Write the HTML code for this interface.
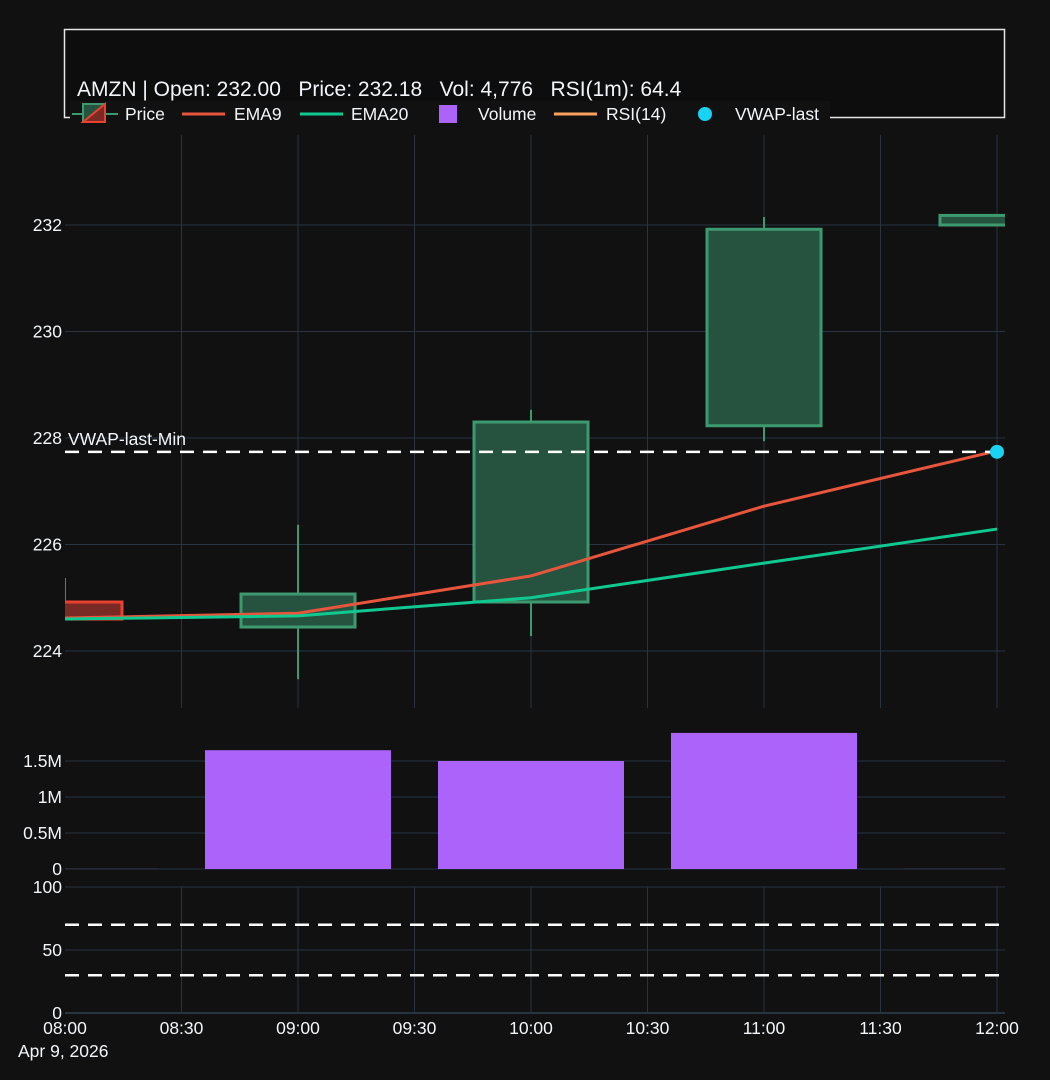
<!DOCTYPE html>
<html><head><meta charset="utf-8"><style>
body{margin:0;background:#111;}
svg{display:block;font-family:"Liberation Sans",sans-serif;}
</style></head><body>
<svg id="c" width="1050" height="1080">
<rect width="1050" height="1080" fill="#111"/>
</svg>
<script>
const times=[0,1,2,3,4]; // hours after 08:00
const opens=[224.92,224.45,224.92,228.23,232.0];
const highs=[225.37,226.37,228.53,232.15,232.18];
const lows=[224.6,223.47,224.28,227.94,232.0];
const closes=[224.6,225.07,228.3,231.92,232.18];
const ema9=[224.62,224.71,225.41,226.72,227.76];
const ema20=[224.6,224.66,225.0,225.65,226.29];
const volumes=[0.004,1.65,1.5,1.89,0.004]; // millions
const vwapLast=227.74;
const priceTicks=[224,226,228,230,232];
const volTicks=[0,0.5,1,1.5];
const volTickLabels=["0","0.5M","1M","1.5M"];
const rsiTicks=[0,50,100];
const rsiLevels=[70,30];
const xTickLabels=["08:00","08:30","09:00","09:30","10:00","10:30","11:00","11:30","12:00"];

const NS="http://www.w3.org/2000/svg",svg=document.getElementById('c');
function el(t,a,p){const e=document.createElementNS(NS,t);for(const k in a)e.setAttribute(k,a[k]);(p||svg).appendChild(e);return e;}
const L=65,R=1005,FS=17.5;
const x=h=>65+h*233;
const yP=v=>225+(232-v)*53.25;
const yV=v=>869-v*72;
const yR=v=>1013-v*1.26;
const GRID="#283442";
const defs=el('defs',{});const cp=el('clipPath',{id:'pc'},defs);el('rect',{x:L,y:135,width:R-L,height:573},cp);

const gx=el('g',{},svg);
for(let i=1;i<9;i++){el('line',{x1:x(i/2),x2:x(i/2),y1:135,y2:708,stroke:GRID},gx);el('line',{x1:x(i/2),x2:x(i/2),y1:887,y2:1013,stroke:GRID},gx);}
priceTicks.forEach(v=>{el('line',{x1:L,x2:R,y1:yP(v),y2:yP(v),stroke:GRID},gx);
 const t=el('text',{x:62,y:yP(v)+6,'text-anchor':'end',fill:'#f2f5fa','font-size':FS});t.textContent=v;});
volTicks.forEach((v,i)=>{el('line',{x1:L,x2:R,y1:yV(v),y2:yV(v),stroke:GRID},gx);
 const t=el('text',{x:62,y:yV(v)+6,'text-anchor':'end',fill:'#f2f5fa','font-size':FS});t.textContent=volTickLabels[i];});
rsiTicks.forEach(v=>{el('line',{x1:L,x2:R,y1:yR(v),y2:yR(v),stroke:GRID,'stroke-width':v==0?2:1},gx);
 const t=el('text',{x:62,y:yR(v)+6,'text-anchor':'end',fill:'#f2f5fa','font-size':FS});t.textContent=v;});
xTickLabels.forEach((s,i)=>{const t=el('text',{x:x(i/2),y:1034,'text-anchor':'middle',fill:'#f2f5fa','font-size':FS});t.textContent=s;});
{const t=el('text',{x:18,y:1057,fill:'#f2f5fa','font-size':FS});t.textContent="Apr 9, 2026";}

const cg=el('g',{'clip-path':'url(#pc)'});
times.forEach((h,i)=>{const up=closes[i]>=opens[i];const c=up?'#3d9970':'#e8412f';const f=up?'#26533f':'#7a2a24';
 const g=el('g',{},cg);
 const top=yP(Math.max(opens[i],closes[i])),bot=yP(Math.min(opens[i],closes[i]));
 el('line',{x1:x(h),x2:x(h),y1:yP(highs[i]),y2:top,stroke:c,'stroke-width':2},g);
 el('line',{x1:x(h),x2:x(h),y1:bot,y2:yP(lows[i]),stroke:c,'stroke-width':2},g);
 el('rect',{x:x(h)-57,y:top,width:114,height:Math.max(bot-top,1),fill:f,stroke:c,'stroke-width':3},g);});
function line(arr,col,name){const p=el('polyline',{points:arr.map((v,i)=>x(times[i])+','+yP(v)).join(' '),fill:'none',stroke:col,'stroke-width':3,'clip-path':'url(#pc)'});}
line(ema9,'#e8553d','ema9-line');line(ema20,'#10c990','ema20-line');
{const l=el('line',{x1:L,x2:R,y1:yP(vwapLast),y2:yP(vwapLast),stroke:'#fff','stroke-width':2.5,'stroke-dasharray':'14,9'});
 const t=el('text',{x:68,y:yP(vwapLast)-7,fill:'#f2f5fa','font-size':FS});t.textContent="VWAP-last-Min";
 const d=el('circle',{cx:x(4),cy:yP(vwapLast),r:7,fill:'#19d3f3'});}
volumes.forEach((v,i)=>{const x0=Math.max(L,x(times[i])-93);const r=el('rect',{x:x0,y:yV(v),width:Math.min(186,R-x0,x(times[i])+93-x0),height:v*72,fill:'#ab63fa','fill-opacity':v<0.05?0.3:1});});
rsiLevels.forEach(v=>{const l=el('line',{x1:L,x2:R,y1:yR(v),y2:yR(v),stroke:'#fff','stroke-width':2.5,'stroke-dasharray':'14,9'});});
{const b=el('rect',{x:64.5,y:29.5,width:940,height:88,fill:'#0d0d0d',stroke:'#e6e6e6','stroke-width':1.5});
 const t=el('text',{x:77,y:96,fill:'#f2f5fa','font-size':21});t.textContent="AMZN | Open: 232.00   Price: 232.18   Vol: 4,776   RSI(1m): 64.4";t.style.whiteSpace='pre';
 const lg=el('g',{});
 el('rect',{x:70,y:101,width:760,height:26,fill:'#111'},lg);
 const items=[['Price',125],['EMA9',234],['EMA20',351],['Volume',478],['RSI(14)',606],['VWAP-last',735]];
 el('line',{x1:72,x2:118,y1:114,y2:114,stroke:'#3d9970','stroke-width':2},lg);
 el('rect',{x:83,y:104,width:22,height:18,fill:'#26533f',stroke:'#3d9970','stroke-width':2},lg);
 el('path',{d:'M83 122 L105 104 L105 122 Z',fill:'#7a2a24',stroke:'#e8412f','stroke-width':2},lg);
 el('line',{x1:182,x2:225,y1:114,y2:114,stroke:'#e8553d','stroke-width':3},lg);
 el('line',{x1:300,x2:343,y1:114,y2:114,stroke:'#10c990','stroke-width':3},lg);
 el('rect',{x:439,y:105,width:18,height:18,fill:'#ab63fa'},lg);
 el('line',{x1:554,x2:597,y1:114,y2:114,stroke:'#ffa15a','stroke-width':3},lg);
 el('circle',{cx:705,cy:114,r:7,fill:'#19d3f3'},lg);
 items.forEach(([s,xx])=>{const t=el('text',{x:xx,y:120,fill:'#f2f5fa','font-size':FS},lg);t.textContent=s;});}
</script>
</body></html>
